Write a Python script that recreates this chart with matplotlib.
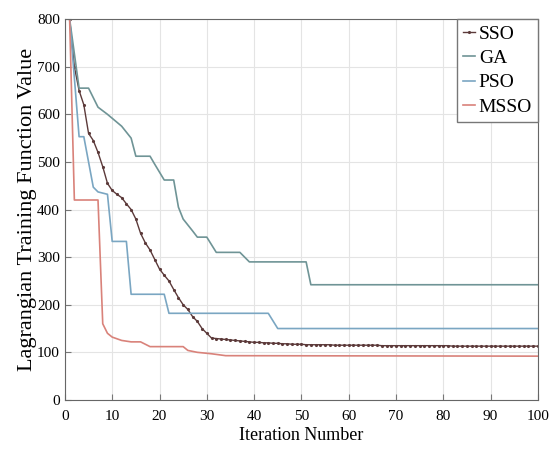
import matplotlib
matplotlib.use("Agg")
import matplotlib.pyplot as plt

plt.rcParams['font.family'] = ['Liberation Serif', 'DejaVu Serif']

# SSO values per iteration (1..100)
sso_x = list(range(1, 101))
sso_y = [800, 700, 650, 620, 560, 545, 520, 490, 455, 440,
         432, 425, 412, 400, 380, 350, 330, 315, 295, 275,
         262, 250, 232, 215, 200, 190, 175, 165, 150, 140,
         130, 129, 128, 127, 126, 125, 124, 123, 122, 121,
         121, 120, 120, 119, 119, 118, 118, 117, 117, 117,
         116, 116, 116, 116, 116, 116, 115, 115, 115, 115,
         115, 115, 115, 115, 115, 115, 114, 114, 114, 114,
         114, 114, 114, 114, 114, 114, 114, 114, 114, 114,
         114, 113, 113, 113, 113, 113, 113, 113, 113, 113,
         113, 113, 113, 113, 113, 113, 113, 113, 113, 113]

ga_x = [1, 3, 5, 7, 9, 12, 14, 15, 18, 19, 21, 23, 24, 25, 27, 28, 30, 32, 37, 39, 51, 52, 100]
ga_y = [800, 655, 655, 615, 600, 575, 550, 512, 512, 495, 462, 462, 405, 380, 355, 342, 342, 310, 310, 290, 290, 242, 242]

pso_x = [1, 3, 4, 6, 7, 9, 10, 13, 14, 21, 22, 43, 45, 100]
pso_y = [800, 553, 553, 447, 437, 432, 333, 333, 222, 222, 182, 182, 150, 150]

msso_x = [1, 2, 7, 8, 9, 10, 12, 14, 16, 18, 25, 26, 28, 31, 34, 100]
msso_y = [800, 420, 420, 160, 140, 132, 125, 122, 122, 112, 112, 104, 100, 97, 93, 92]

fig = plt.figure(figsize=(5.5, 4.55), dpi=100)
ax = fig.add_axes([0.118, 0.121, 0.86, 0.837])

ax.plot(sso_x, sso_y, color='#5c3a3a', lw=1.0, marker='.', markersize=2.5, label='SSO')
ax.plot(ga_x, ga_y, color='#6f9496', lw=1.2, label='GA')
ax.plot(pso_x, pso_y, color='#7aa6c2', lw=1.2, label='PSO')
ax.plot(msso_x, msso_y, color='#d9827a', lw=1.2, label='MSSO')

ax.set_xlim(0, 100)
ax.set_ylim(0, 800)
ax.set_xticks(range(0, 101, 10))
ax.set_yticks(range(0, 801, 100))
ax.grid(True, color='#e4e4e4', lw=0.8)
ax.tick_params(direction='in', labelsize=11, length=4, color='#777777')
ax.tick_params(axis='x', pad=7)
for s in ax.spines.values():
    s.set_color('#666666')

ax.set_xlabel('Iteration Number', fontsize=13, labelpad=3)
ax.set_ylabel('Lagrangian Training Function Value', fontsize=16, labelpad=0)

leg = ax.legend(loc='upper right', fontsize=14, handlelength=0.6, handletextpad=0.2,
                labelspacing=0.35, borderpad=0.3, borderaxespad=0.0, fancybox=False,
                framealpha=1)
leg.get_frame().set_edgecolor('#777777')

fig.savefig('out.png', dpi=100)
